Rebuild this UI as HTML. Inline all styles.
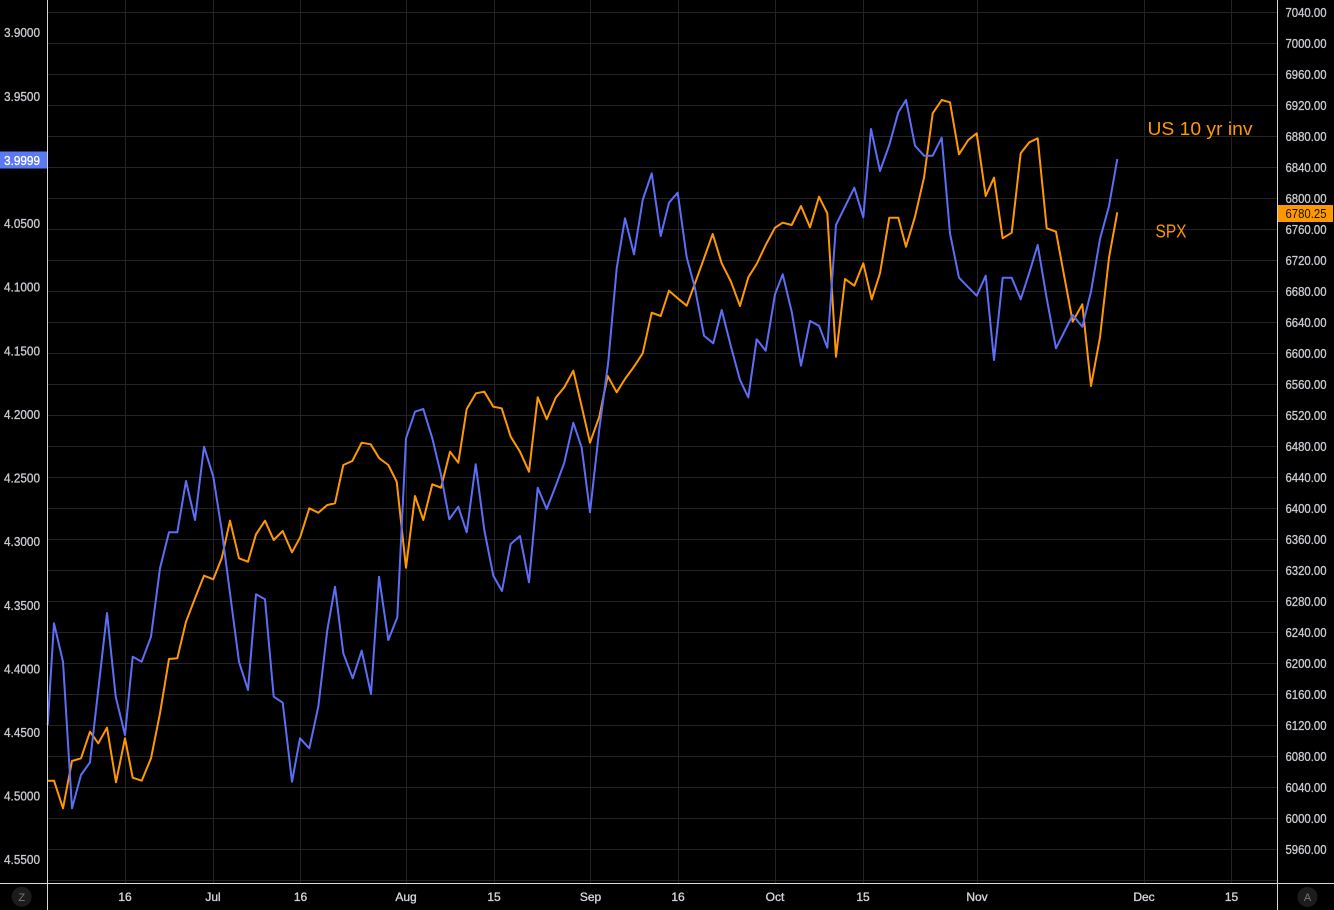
<!DOCTYPE html>
<html><head><meta charset="utf-8"><style>
html,body{margin:0;padding:0;background:#000;overflow:hidden}
svg{display:block}
text{font-family:"Liberation Sans",sans-serif}
</style></head><body>
<svg width="1334" height="910" viewBox="0 0 1334 910" xmlns="http://www.w3.org/2000/svg">
<rect x="0" y="0" width="1334" height="910" fill="#000"/>
<g stroke="#232323" stroke-width="1">
<line x1="48" x2="1277" y1="12.5" y2="12.5"/><line x1="48" x2="1277" y1="43.5" y2="43.5"/><line x1="48" x2="1277" y1="74.5" y2="74.5"/><line x1="48" x2="1277" y1="105.5" y2="105.5"/><line x1="48" x2="1277" y1="136.5" y2="136.5"/><line x1="48" x2="1277" y1="167.5" y2="167.5"/><line x1="48" x2="1277" y1="198.5" y2="198.5"/><line x1="48" x2="1277" y1="229.5" y2="229.5"/><line x1="48" x2="1277" y1="260.5" y2="260.5"/><line x1="48" x2="1277" y1="291.5" y2="291.5"/><line x1="48" x2="1277" y1="322.5" y2="322.5"/><line x1="48" x2="1277" y1="353.5" y2="353.5"/><line x1="48" x2="1277" y1="384.5" y2="384.5"/><line x1="48" x2="1277" y1="415.5" y2="415.5"/><line x1="48" x2="1277" y1="446.5" y2="446.5"/><line x1="48" x2="1277" y1="477.5" y2="477.5"/><line x1="48" x2="1277" y1="508.5" y2="508.5"/><line x1="48" x2="1277" y1="539.5" y2="539.5"/><line x1="48" x2="1277" y1="570.5" y2="570.5"/><line x1="48" x2="1277" y1="601.5" y2="601.5"/><line x1="48" x2="1277" y1="632.5" y2="632.5"/><line x1="48" x2="1277" y1="663.5" y2="663.5"/><line x1="48" x2="1277" y1="694.5" y2="694.5"/><line x1="48" x2="1277" y1="725.5" y2="725.5"/><line x1="48" x2="1277" y1="756.5" y2="756.5"/><line x1="48" x2="1277" y1="787.5" y2="787.5"/><line x1="48" x2="1277" y1="818.5" y2="818.5"/><line x1="48" x2="1277" y1="849.5" y2="849.5"/><line x1="48" x2="1277" y1="880.5" y2="880.5"/>
<line x1="125.5" x2="125.5" y1="0" y2="883"/><line x1="213.5" x2="213.5" y1="0" y2="883"/><line x1="300.5" x2="300.5" y1="0" y2="883"/><line x1="406.5" x2="406.5" y1="0" y2="883"/><line x1="494.5" x2="494.5" y1="0" y2="883"/><line x1="590.5" x2="590.5" y1="0" y2="883"/><line x1="678.5" x2="678.5" y1="0" y2="883"/><line x1="775.5" x2="775.5" y1="0" y2="883"/><line x1="863.5" x2="863.5" y1="0" y2="883"/><line x1="977.5" x2="977.5" y1="0" y2="883"/><line x1="1144.5" x2="1144.5" y1="0" y2="883"/><line x1="1231.5" x2="1231.5" y1="0" y2="883"/>
</g>
<polyline fill="none" stroke="#ff9800" stroke-width="2" stroke-linejoin="round" points="47.7,780.7 54,780.7 63,808.3 72,761 81,758.3 90,731.7 98.3,743.3 107,727.7 116,782.3 125,738.3 132.7,777.7 141.7,780.7 151,758.3 160,713.3 169,659 177.3,658.3 186,621.7 195,598.3 204,575.7 213.3,579.3 221.7,558.3 230,520.7 239,558.3 248,561.7 256,534.3 265,520.7 273.7,540 282.7,531 292,552.3 300,537.7 309.3,508.3 318.3,512.7 327.3,505 335,503.3 343.3,465 352.3,461 361.7,442.7 370.7,444.3 379.3,458.3 388.3,465 396.7,481.7 406,567.7 415,496 423.3,520 432.3,484.3 441,487.7 450,451.7 458.3,462.7 466.7,409 476,393.3 484.3,391.7 493.3,406.7 501.7,408.3 510.7,436.7 520,451.7 529,471.7 537.7,397.3 546.7,419.3 555.7,397.7 564.3,387.3 573.3,370.7 581.7,406.5 590,442.7 599.3,416.7 607.7,376 616.7,392.3 625,379 634,366.7 642.7,353.3 651.7,312.7 660.7,316 669,290.7 677.7,298.3 686.7,305.7 695,283.3 704,258.3 712.7,234 721.7,263.3 731,281.7 740,306 748.3,277.3 756.7,264 765.7,245 775,227.7 782.7,222.7 791.7,225 801,206 810,227.3 819,196.7 827.3,213.3 836,356.7 845,279 854.3,285.7 863.3,263.3 871.7,299.3 880,273.3 889.3,217.7 898.3,217.7 906,246.7 915,216.7 924,177.7 932.7,113.3 941.7,100 950,102.3 959,154.3 968.3,140 976.7,133.3 985.7,196 994,177.7 1002.7,238.3 1011.7,232.7 1020.7,153.3 1029.3,142.3 1037.7,138.3 1046.7,228.3 1056,231.7 1064.3,276.7 1072.7,321.7 1082.3,304.3 1091,386 1100,337.3 1109,257.7 1117.3,212.3"/>
<polyline fill="none" stroke="#5c6ef5" stroke-width="2" stroke-linejoin="round" points="47.7,725 54,623.3 63,661.7 72,808.3 81,775 90,762.3 107,613 115.7,696.7 125,735 132.7,656.7 141.7,661.7 151,636.7 160,568.3 169,532.3 177.3,532.3 186,481 195,520 204,446.7 213.3,476.7 221.7,530 230,593.3 239,661.7 248,690 256,594.3 265,599.3 273.7,696.7 282.7,702.7 292,781.7 300,738.3 309.3,748.3 318.3,706.7 327.3,630 335,586.7 343.3,653.3 352.7,678.3 361.7,650.7 371,694 379,576.7 388.3,640 397.3,617.3 406,438.3 415,411.7 423.3,409 432.3,438.3 440.7,473.3 449.3,519.3 458.3,506.7 466.7,532.3 475.7,464.3 484.3,530 493.3,575.7 502,591 510.7,544 520,536 529,582.3 537.7,487.7 546.7,509 555.7,486 564.3,462.7 573.3,422.7 581.7,447.7 590,512.3 599.3,429 608.3,361.7 616.7,268.3 625,218.3 634,254.3 642.7,200 651.7,173.3 660.7,236 669,202.7 677.7,192.7 686.7,257.3 695,288.3 704,335.7 713.3,343.3 721.7,310 731,346.7 740,380 748.3,397.3 756.7,339.3 765.7,350.7 775,294.3 782.7,274.3 791.7,311.7 801,365.7 810,321 819,325.7 827.3,347.7 836,225 845,206.7 854.3,187.7 863.3,217.3 871,129 880,171 889.3,145 898.3,112.3 906,100 915,145.7 924,155.7 932.7,155.7 941.7,137.7 950,233.3 959,277.7 968.3,287.3 976.7,295.7 985.7,275.7 994,360 1002.7,277.7 1011.7,277.7 1020.7,299.3 1029.3,272.7 1037.7,245 1046.7,298.3 1056,348.3 1064.3,331.7 1072.7,315 1082.3,326.7 1091,291.7 1100,239 1109,206 1117.3,159"/>
<g fill="#ff9800">
<text x="1147.5" y="135" font-size="18.5" textLength="105" lengthAdjust="spacingAndGlyphs">US 10 yr inv</text>
<text x="1155.5" y="237.5" font-size="18.5" textLength="31" lengthAdjust="spacingAndGlyphs">SPX</text>
</g>
<g stroke="#d6d6d6" stroke-width="1">
<line x1="47.5" x2="47.5" y1="0" y2="910"/>
<line x1="1277.5" x2="1277.5" y1="0" y2="910"/>
<line x1="0" x2="1334" y1="883.5" y2="883.5"/>
</g>
<g fill="#c9cbd1" stroke="#c9cbd1" stroke-width="0.3" font-size="12.5">
<text x="4" y="37" textLength="36" lengthAdjust="spacingAndGlyphs">3.9000</text>
<text x="4" y="101.2" textLength="36" lengthAdjust="spacingAndGlyphs">3.9500</text>
<text x="4" y="228" textLength="36" lengthAdjust="spacingAndGlyphs">4.0500</text>
<text x="4" y="291.7" textLength="36" lengthAdjust="spacingAndGlyphs">4.1000</text>
<text x="4" y="355.3" textLength="36" lengthAdjust="spacingAndGlyphs">4.1500</text>
<text x="4" y="419" textLength="36" lengthAdjust="spacingAndGlyphs">4.2000</text>
<text x="4" y="482.6" textLength="36" lengthAdjust="spacingAndGlyphs">4.2500</text>
<text x="4" y="546.2" textLength="36" lengthAdjust="spacingAndGlyphs">4.3000</text>
<text x="4" y="609.8" textLength="36" lengthAdjust="spacingAndGlyphs">4.3500</text>
<text x="4" y="673.4" textLength="36" lengthAdjust="spacingAndGlyphs">4.4000</text>
<text x="4" y="737" textLength="36" lengthAdjust="spacingAndGlyphs">4.4500</text>
<text x="4" y="800.6" textLength="36" lengthAdjust="spacingAndGlyphs">4.5000</text>
<text x="4" y="864.2" textLength="36" lengthAdjust="spacingAndGlyphs">4.5500</text>
</g>
<rect x="0" y="151.5" width="47" height="17" fill="#5b78f6"/>
<text x="4" y="165" font-size="12.5" fill="#fff" stroke="#fff" stroke-width="0.3" textLength="36" lengthAdjust="spacingAndGlyphs">3.9999</text>
<g fill="#c9cbd1" stroke="#c9cbd1" stroke-width="0.3" font-size="12.5">
<text x="1285.5" y="16.8" textLength="41" lengthAdjust="spacingAndGlyphs">7040.00</text>
<text x="1285.5" y="47.8" textLength="41" lengthAdjust="spacingAndGlyphs">7000.00</text>
<text x="1285.5" y="78.8" textLength="41" lengthAdjust="spacingAndGlyphs">6960.00</text>
<text x="1285.5" y="109.8" textLength="41" lengthAdjust="spacingAndGlyphs">6920.00</text>
<text x="1285.5" y="140.8" textLength="41" lengthAdjust="spacingAndGlyphs">6880.00</text>
<text x="1285.5" y="171.8" textLength="41" lengthAdjust="spacingAndGlyphs">6840.00</text>
<text x="1285.5" y="202.8" textLength="41" lengthAdjust="spacingAndGlyphs">6800.00</text>
<text x="1285.5" y="233.8" textLength="41" lengthAdjust="spacingAndGlyphs">6760.00</text>
<text x="1285.5" y="264.8" textLength="41" lengthAdjust="spacingAndGlyphs">6720.00</text>
<text x="1285.5" y="295.8" textLength="41" lengthAdjust="spacingAndGlyphs">6680.00</text>
<text x="1285.5" y="326.8" textLength="41" lengthAdjust="spacingAndGlyphs">6640.00</text>
<text x="1285.5" y="357.8" textLength="41" lengthAdjust="spacingAndGlyphs">6600.00</text>
<text x="1285.5" y="388.8" textLength="41" lengthAdjust="spacingAndGlyphs">6560.00</text>
<text x="1285.5" y="419.8" textLength="41" lengthAdjust="spacingAndGlyphs">6520.00</text>
<text x="1285.5" y="450.8" textLength="41" lengthAdjust="spacingAndGlyphs">6480.00</text>
<text x="1285.5" y="481.8" textLength="41" lengthAdjust="spacingAndGlyphs">6440.00</text>
<text x="1285.5" y="512.8" textLength="41" lengthAdjust="spacingAndGlyphs">6400.00</text>
<text x="1285.5" y="543.8" textLength="41" lengthAdjust="spacingAndGlyphs">6360.00</text>
<text x="1285.5" y="574.8" textLength="41" lengthAdjust="spacingAndGlyphs">6320.00</text>
<text x="1285.5" y="605.8" textLength="41" lengthAdjust="spacingAndGlyphs">6280.00</text>
<text x="1285.5" y="636.8" textLength="41" lengthAdjust="spacingAndGlyphs">6240.00</text>
<text x="1285.5" y="667.8" textLength="41" lengthAdjust="spacingAndGlyphs">6200.00</text>
<text x="1285.5" y="698.8" textLength="41" lengthAdjust="spacingAndGlyphs">6160.00</text>
<text x="1285.5" y="729.8" textLength="41" lengthAdjust="spacingAndGlyphs">6120.00</text>
<text x="1285.5" y="760.8" textLength="41" lengthAdjust="spacingAndGlyphs">6080.00</text>
<text x="1285.5" y="791.8" textLength="41" lengthAdjust="spacingAndGlyphs">6040.00</text>
<text x="1285.5" y="822.8" textLength="41" lengthAdjust="spacingAndGlyphs">6000.00</text>
<text x="1285.5" y="853.8" textLength="41" lengthAdjust="spacingAndGlyphs">5960.00</text>
</g>
<rect x="1278" y="205" width="55" height="17" fill="#ff9800"/>
<text x="1285.5" y="218" font-size="12.5" fill="#111" textLength="41" lengthAdjust="spacingAndGlyphs">6780.25</text>
<g fill="#d1d4dc" stroke="#d1d4dc" stroke-width="0.35" font-size="12" text-anchor="middle">
<text x="125" y="901">16</text>
<text x="213" y="901">Jul</text>
<text x="300.5" y="901">16</text>
<text x="406" y="901">Aug</text>
<text x="494" y="901">15</text>
<text x="590.5" y="901">Sep</text>
<text x="678" y="901">16</text>
<text x="775" y="901">Oct</text>
<text x="863" y="901">15</text>
<text x="977" y="901">Nov</text>
<text x="1144" y="901">Dec</text>
<text x="1231.5" y="901">15</text>
</g>
<circle cx="21.7" cy="896.8" r="10" fill="#1c1c1c"/>
<text x="21.7" y="901" font-size="11" fill="#777" text-anchor="middle">Z</text>
<circle cx="1307.5" cy="897" r="10" fill="#1c1c1c"/>
<text x="1307.5" y="901" font-size="11" fill="#777" text-anchor="middle">A</text>
</svg>
</body></html>
